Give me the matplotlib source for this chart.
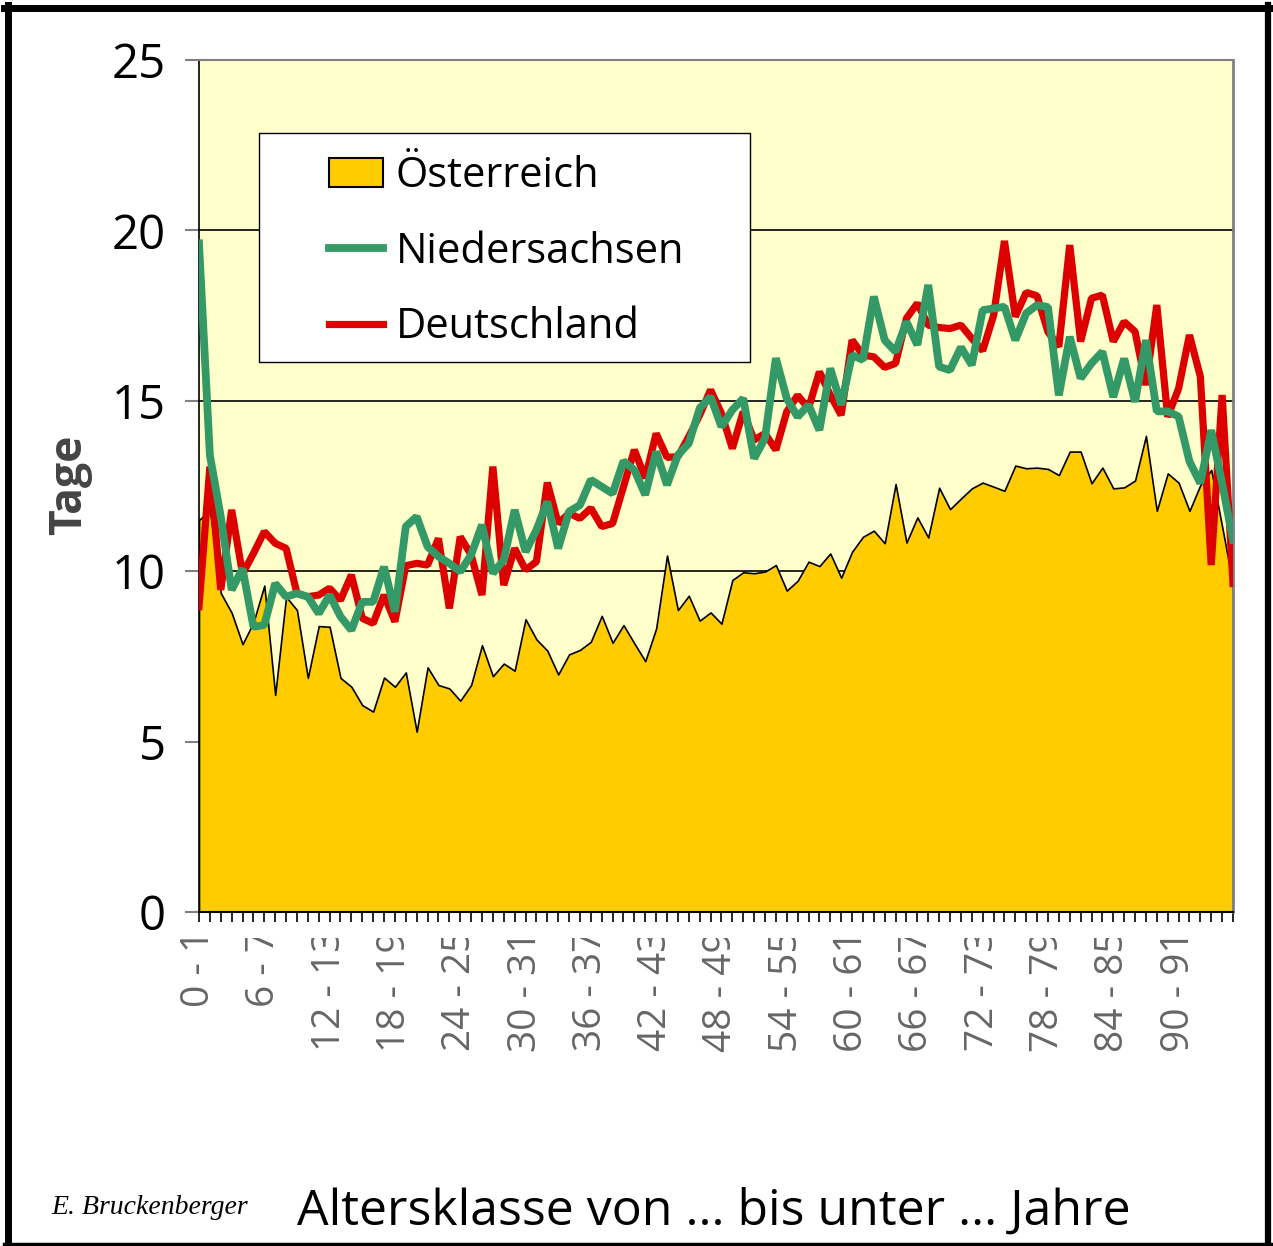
import matplotlib
matplotlib.use("Agg")
import matplotlib.pyplot as plt
import numpy as np
from matplotlib.patches import Patch, Rectangle
from matplotlib.lines import Line2D
from matplotlib.transforms import Bbox, TransformedBbox

plt.rcParams['font.family'] = ['Open Sans', 'DejaVu Sans']

# Tage je Altersklasse (0-1 ... 95-96)
oesterreich = [11.5, 11.8, 9.36, 8.78, 7.86, 8.5, 9.58, 6.37, 9.25, 8.86,
               6.87, 8.39, 8.37, 6.87, 6.61, 6.07, 5.88, 6.88, 6.61, 7.03,
               5.29, 7.18, 6.66, 6.56, 6.2, 6.66, 7.83, 6.92, 7.29, 7.08,
               8.59, 8.0, 7.67, 6.97, 7.56, 7.69, 7.93, 8.69, 7.9, 8.42,
               7.88, 7.36, 8.32, 10.46, 8.86, 9.28, 8.55, 8.79, 8.46, 9.74,
               9.97, 9.94, 9.99, 10.18, 9.43, 9.72, 10.28, 10.15, 10.52, 9.81,
               10.57, 11.01, 11.19, 10.82, 12.56, 10.84, 11.58, 10.99, 12.45, 11.82,
               12.13, 12.43, 12.6, 12.48, 12.36, 13.1, 13.02, 13.04, 13.0, 12.82,
               13.51, 13.51, 12.58, 13.04, 12.43, 12.46, 12.66, 13.97, 11.77, 12.87,
               12.6, 11.77, 12.53, 12.97, 11.31, 9.6]
niedersachsen = [19.62, 13.4, 11.6, 9.45, 10.08, 8.37, 8.42, 9.64, 9.25, 9.35,
                 9.25, 8.76, 9.3, 8.67, 8.27, 9.1, 9.1, 10.13, 8.81, 11.31,
                 11.6, 10.72, 10.43, 10.23, 9.99, 10.48, 11.36, 9.94, 10.33, 11.8,
                 10.57, 11.21, 12.04, 10.67, 11.75, 11.94, 12.68, 12.48, 12.28, 13.23,
                 12.97, 12.24, 13.51, 12.53, 13.41, 13.75, 14.78, 15.12, 14.24, 14.73,
                 15.07, 13.31, 13.9, 16.25, 15.07, 14.53, 14.88, 14.14, 15.95, 14.88,
                 16.34, 16.2, 18.06, 16.78, 16.44, 17.32, 16.64, 18.4, 16.0, 15.9,
                 16.57, 16.05, 17.66, 17.71, 17.76, 16.78, 17.57, 17.81, 17.75, 15.16,
                 16.88, 15.66, 16.1, 16.44, 15.11, 16.24, 14.97, 16.78, 14.69, 14.69,
                 14.54, 13.22, 12.58, 14.14, 12.58, 10.92]
deutschland = [8.96, 13.07, 9.45, 11.8, 9.92, 10.52, 11.16, 10.82, 10.67, 9.35,
               9.25, 9.3, 9.5, 9.15, 9.89, 8.62, 8.47, 9.3, 8.52, 10.16,
               10.23, 10.18, 10.96, 8.91, 11.01, 10.48, 9.3, 13.07, 9.59, 10.67,
               10.04, 10.28, 12.6, 11.4, 11.7, 11.55, 11.85, 11.31, 11.4, 12.48,
               13.56, 12.73, 14.04, 13.34, 13.36, 13.95, 14.58, 15.32, 14.63, 13.6,
               14.68, 13.85, 14.04, 13.56, 14.68, 15.16, 14.78, 15.85, 15.17, 14.58,
               16.78, 16.34, 16.29, 15.98, 16.1, 17.42, 17.86, 17.22, 17.15, 17.12,
               17.22, 16.83, 16.47, 17.5, 19.69, 17.47, 18.18, 18.08, 17.02, 16.59,
               19.57, 16.74, 18.01, 18.1, 16.74, 17.32, 17.03, 15.46, 17.81, 14.53,
               15.36, 16.93, 15.71, 10.18, 15.17, 9.64]
tick_labels = ["0 - 1", "6 - 7", "12 - 13", "18 - 19", "24 - 25", "30 - 31",
               "36 - 37", "42 - 43", "48 - 49", "54 - 55", "60 - 61", "66 - 67",
               "72 - 73", "78 - 79", "84 - 85", "90 - 91"]

W, H = 1273, 1246
fig = plt.figure(figsize=(W / 100, H / 100), dpi=100)
fig.patch.set_facecolor("white")
ax = fig.add_axes([199 / W, (H - 912) / H, (1233 - 199) / W, (912 - 60) / H])
ax.set_facecolor("#FFFFCC")

x = np.arange(len(oesterreich))
ax.fill_between(x, 0, oesterreich, facecolor="#FFCC00", edgecolor="black", linewidth=1.2, zorder=2)
ax.plot(x, deutschland, color="#DD0000", lw=5.2, solid_joinstyle="bevel", zorder=3)
ax.plot(x, niedersachsen, color="#339966", lw=5.6, solid_joinstyle="bevel", zorder=4)

ax.set_xlim(0, len(oesterreich) - 1)
ax.set_ylim(0, 25)
ax.set_yticks([0, 5, 10, 15, 20, 25])
ax.grid(axis="y", color="black", lw=1.2)
ax.set_axisbelow(True)
ax.tick_params(axis="y", labelsize=34, length=10, width=1.5, color="#808080", pad=14)

ax.set_xticks(range(0, 91, 6))
ax.set_xticklabels(tick_labels, rotation=90, fontsize=28, color="#666666")
ax.set_xticks(range(len(oesterreich)), minor=True)
ax.tick_params(axis="x", which="both", length=7, width=1.2, color="black", pad=6)

for side, col, lw in [("left", "black", 1.2), ("bottom", "black", 1.5), ("top", "#808080", 1.5), ("right", "#808080", 2)]:
    ax.spines[side].set_color(col)
    ax.spines[side].set_linewidth(lw)

# labels are cut off at the top like in the original image
clip = TransformedBbox(Bbox.from_extents(0, 0, 1, (H - 938) / H), fig.transFigure)
for t in ax.xaxis.get_major_ticks():
    t.label1.set_clip_box(clip)
    t.label1.set_clip_on(True)

# legend box
ax.add_patch(Rectangle(((259 - 199) / 1034, (912 - 362) / 852), (750 - 259) / 1034, (362 - 133) / 852,
                       transform=ax.transAxes, facecolor="white", edgecolor="black", lw=1, zorder=5))
handles = [Patch(facecolor="#FFCC00", edgecolor="black", lw=1.5),
           Line2D([], [], color="#339966", lw=5.6),
           Line2D([], [], color="#DD0000", lw=5.2)]
leg = ax.legend(handles, ["Österreich", "Niedersachsen", "Deutschland"], loc="upper left",
                bbox_to_anchor=((329 - 199) / 1034, (912 - 155) / 852), frameon=False, fontsize=30,
                handlelength=1.3, handleheight=0.7, handletextpad=0.3, labelspacing=0.81,
                borderpad=0, borderaxespad=0)
leg.set_zorder(6)

fig.text(70 / W, 1 - 485 / H, "Tage", rotation=90, fontsize=32, weight="bold", color="#444444",
         ha="center", va="center")
fig.text(714 / W, 1 - 1212 / H, "Altersklasse von ... bis unter ... Jahre", fontsize=36,
         ha="center", va="center")
fig.text(150 / W, 1 - 1207 / H, "E. Bruckenberger", family="Liberation Serif", style="italic",
         fontsize=20, ha="center", va="center")

# frame around the picture
fig.add_artist(Line2D([4 / W, 1271 / W], [1 - 8 / H, 1 - 8 / H], color="black", lw=5, transform=fig.transFigure))
fig.add_artist(Line2D([8 / W, 8 / W], [1 - 5 / H, 1 - 1245 / H], color="black", lw=5, transform=fig.transFigure))
fig.add_artist(Line2D([1268 / W, 1268 / W], [1 - 5 / H, 1 - 1245 / H], color="black", lw=4.5, transform=fig.transFigure))
fig.add_artist(Line2D([4 / W, 1271 / W], [1 - 1244 / H, 1 - 1244 / H], color="black", lw=2.5, transform=fig.transFigure))

fig.savefig("out.png", dpi=100)
